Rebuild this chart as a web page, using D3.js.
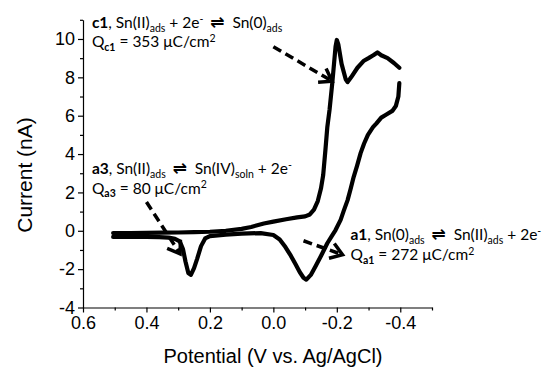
<!DOCTYPE html>
<html>
<head>
<meta charset="utf-8">
<script src="https://cdnjs.cloudflare.com/ajax/libs/d3/7.8.5/d3.min.js"></script>
<style>
  body { margin: 0; background: #fff; }
  svg { display: block; }
</style>
</head>
<body>
<div id="chart"></div>
<script>
// cathodic sweep 0.5 V -> -0.4 V
var fwdPotential = [0.505, 0.45, 0.40, 0.35, 0.30, 0.25, 0.20, 0.15, 0.10, 0.07, 0.03, 0.0, -0.04, -0.075, -0.10,
    -0.115, -0.128, -0.14, -0.15, -0.157, -0.164, -0.17, -0.177, -0.186, -0.196, -0.200, -0.205, -0.215, -0.228,
    -0.234, -0.245, -0.265, -0.284, -0.30, -0.315, -0.328, -0.34, -0.36, -0.38, -0.397];
var fwdCurrent = [-0.12, -0.12, -0.11, -0.1, -0.09, -0.07, -0.05, 0.0, 0.1, 0.2, 0.38, 0.48, 0.6, 0.7, 0.75,
    0.85, 1.1, 1.55, 2.2, 2.9, 4.2, 5.4, 6.3, 7.75, 9.6, 9.95, 9.7, 8.7, 7.9,
    7.75, 8.0, 8.5, 8.85, 9.0, 9.15, 9.3, 9.15, 9.0, 8.75, 8.5];

// anodic sweep -0.4 V -> 0.5 V
var revPotential = [-0.397, -0.394, -0.386, -0.375, -0.355, -0.34, -0.325, -0.314, -0.298, -0.286, -0.275, -0.264,
    -0.253, -0.243, -0.234, -0.222, -0.212, -0.196, -0.183, -0.17, -0.152, -0.133, -0.118, -0.104, -0.095, -0.083,
    -0.07, -0.055, -0.038, -0.02, 0.0, 0.04, 0.10, 0.15, 0.20, 0.215, 0.228, 0.24, 0.25, 0.26, 0.268, 0.277,
    0.285, 0.295, 0.31, 0.33, 0.36, 0.40, 0.45, 0.505];
var revCurrent = [7.7, 7.0, 6.5, 6.25, 6.05, 5.9, 5.6, 5.4, 5.0, 4.55, 4.05, 3.4,
    2.8, 2.15, 1.6, 1.05, 0.57, 0.04, -0.3, -0.65, -1.25, -1.85, -2.3, -2.55, -2.45, -2.15,
    -1.75, -1.3, -0.85, -0.45, -0.22, -0.12, -0.15, -0.2, -0.28, -0.4, -0.8, -1.45, -1.95, -2.3, -2.2, -1.6,
    -0.95, -0.55, -0.42, -0.36, -0.33, -0.32, -0.32, -0.32];

var xTicks = [0.6, 0.4, 0.2, 0.0, -0.2, -0.4];
var xMinor = [0.5, 0.3, 0.1, -0.1, -0.3, -0.5];
var yTicks = [-4, -2, 0, 2, 4, 6, 8, 10];
var yMinor = [-3, -1, 1, 3, 5, 7, 9, 11];

// annotation text lines: [potential, current, parts]
var labels = [
  [0.572, 10.57, [["c1", "b"], [", Sn(II)"], ["ads", "sub"], [" + 2e"], ["-", "sup"], [" \u21CC ", "eq"], ["Sn(0)"], ["ads", "sub"]]],
  [0.572, 9.58, [["Q"], ["c1", "subb"], [" = 353 \u03BCC/cm"], ["2", "sup"]]],
  [0.572, 2.96, [["a3", "b"], [", Sn(II)"], ["ads", "sub"], [" \u21CC ", "eq"], ["Sn(IV)"], ["soln", "sub"], [" + 2e"], ["-", "sup"]]],
  [0.572, 1.92, [["Q"], ["a3", "subb"], [" = 80 \u03BCC/cm"], ["2", "sup"]]],
  [-0.243, -0.49, [["a1", "b"], [", Sn(0)"], ["ads", "sub"], [" \u21CC ", "eq"], ["Sn(II)"], ["ads", "sub"], [" + 2e"], ["-", "sup"]]],
  [-0.243, -1.53, [["Q"], ["a1", "subb"], [" = 272 \u03BCC/cm"], ["2", "sup"]]]
];
// dashed arrows: [fromPotential, fromCurrent, toPotential, toCurrent]
var arrows = [
  [0.0, 9.6, -0.185, 7.8],
  [0.40, 1.5, 0.294, -1.2],
  [-0.095, -0.52, -0.218, -1.25]
];

var width = 557, height = 372;

var x = d3.scaleLinear().domain([0.6, -0.5]).range([83, 432]);
var y = d3.scaleLinear().domain([-4, 11]).range([307.5, 19.8]);

var svg = d3.select("#chart").append("svg")
    .attr("width", width)
    .attr("height", height);

// axes
svg.append("g")
    .attr("transform", "translate(0," + y(-4) + ")")
    .call(d3.axisBottom(x).tickValues(xTicks).tickSize(5).tickSizeOuter(0)
        .tickPadding(4).tickFormat(function(d) { return d.toFixed(1); }));
svg.append("g")
    .attr("transform", "translate(0," + y(-4) + ")")
    .call(d3.axisBottom(x).tickValues(xMinor).tickSize(3).tickSizeOuter(0).tickFormat(""))
    .select(".domain").remove();

svg.append("g")
    .attr("transform", "translate(" + x(0.6) + ",0)")
    .call(d3.axisLeft(y).tickValues(yTicks).tickSize(5).tickSizeOuter(0)
        .tickPadding(3).tickFormat(function(d) { return String(d); }));
svg.append("g")
    .attr("transform", "translate(" + x(0.6) + ",0)")
    .call(d3.axisLeft(y).tickValues(yMinor).tickSize(3).tickSizeOuter(0).tickFormat(""))
    .select(".domain").remove();

svg.selectAll(".domain, .tick line")
    .attr("stroke", "#000")
    .attr("stroke-width", 1.2);
svg.selectAll(".tick text")
    .attr("fill", "#000")
    .style("font-family", "'Liberation Sans', Arial, sans-serif")
    .style("font-size", "18px");

svg.append("text")
    .attr("x", 273)
    .attr("y", 363)
    .attr("text-anchor", "middle")
    .style("font-family", "'Liberation Sans', Arial, sans-serif")
    .style("font-size", "20px")
    .text("Potential (V vs. Ag/AgCl)");

svg.append("text")
    .attr("transform", "translate(32,175) rotate(-90)")
    .attr("text-anchor", "middle")
    .style("font-family", "'Liberation Sans', Arial, sans-serif")
    .style("font-size", "21px")
    .text("Current (nA)");

// CV curve
var line = d3.line()
    .x(function(d) { return x(d[0]); })
    .y(function(d) { return y(d[1]); });

var sweeps = [d3.zip(fwdPotential, fwdCurrent), d3.zip(revPotential, revCurrent)];
svg.append("g")
    .selectAll("path")
    .data(sweeps)
    .enter()
    .append("path")
    .attr("d", line)
    .attr("fill", "none")
    .attr("stroke", "#000")
    .attr("stroke-width", 4.2)
    .attr("stroke-linejoin", "round")
    .attr("stroke-linecap", "round");

// arrows
var arrowG = svg.append("g");
arrows.forEach(function(a) {
    var x0 = x(a[0]), y0 = y(a[1]), x1 = x(a[2]), y1 = y(a[3]);
    var ang = Math.atan2(y1 - y0, x1 - x0);
    arrowG.append("line")
        .attr("x1", x0).attr("y1", y0)
        .attr("x2", x1 - 2 * Math.cos(ang)).attr("y2", y1 - 2 * Math.sin(ang))
        .attr("stroke", "#000")
        .attr("stroke-width", 3.5)
        .attr("stroke-dasharray", "9,5");
    var len = 14, spread = 0.6;
    var p = [
        [x1 - len * Math.cos(ang - spread), y1 - len * Math.sin(ang - spread)],
        [x1, y1],
        [x1 - len * Math.cos(ang + spread), y1 - len * Math.sin(ang + spread)]
    ];
    arrowG.append("path")
        .attr("d", d3.line()(p))
        .attr("fill", "none")
        .attr("stroke", "#000")
        .attr("stroke-width", 3.5)
        .attr("stroke-linejoin", "miter");
});

// annotation text
var textFont = "Lato, 'Open Sans', sans-serif";
labels.forEach(function(l) {
    var t = svg.append("text")
        .attr("x", x(l[0]))
        .attr("y", y(l[1]))
        .style("font-family", textFont)
        .style("font-size", "15.5px")
        .attr("fill", "#000");
    var shift = 0;
    l[2].forEach(function(part) {
        var kind = part[1] || "";
        var target = kind === "sub" || kind === "subb" ? 3.5 : kind === "sup" ? -5.5 : 0;
        var s = t.append("tspan")
            .attr("dy", target - shift)
            .text(part[0]);
        shift = target;
        if (kind === "b" || kind === "subb") s.style("font-weight", "bold");
        if (kind === "sub" || kind === "subb" || kind === "sup") s.style("font-size", "10.5px");
        if (kind === "eq") s.style("font-family", "'DejaVu Sans', sans-serif").style("font-size", "17px")
            .style("font-weight", "bold").style("letter-spacing", "1px");
    });
});
</script>
</body>
</html>
